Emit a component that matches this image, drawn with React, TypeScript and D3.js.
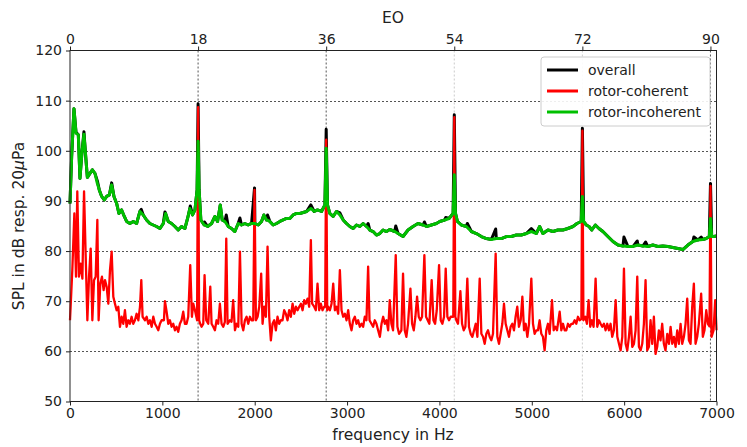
import React, { useEffect, useRef } from "react";
import * as d3 from "d3";

// [frequency in Hz, SPL in dB]
const rotorIncoherent: [number, number][] = [
  [0, 89.5], [18, 98.9], [43, 108.4], [65, 103.5], [90, 103.2], [108, 94.5], [126, 98.9], [151, 103.3],
  [170, 98.9], [188, 94.7], [216, 95.5], [242, 96.2], [270, 95.5], [296, 93.5], [317, 92.2], [343, 90.9],
  [371, 90.2], [397, 90.9], [426, 91.2], [451, 93.2], [476, 90.9], [505, 89.5], [530, 87.5], [559, 88.2],
  [588, 86.9], [613, 85.9], [649, 85.5], [685, 85.9], [721, 85.5], [757, 87.9], [793, 87.2], [829, 86.2],
  [865, 85.5], [901, 85.2], [937, 84.9], [974, 84.5], [1010, 85.5], [1035, 87.5], [1064, 85.9], [1100, 85.5],
  [1136, 84.9], [1172, 84.2], [1208, 84.9], [1244, 84.5], [1273, 86.5], [1298, 88.5], [1327, 87.2], [1353, 88.2],
  [1376, 92.2], [1387, 101.9], [1398, 92.2], [1417, 86.2], [1453, 85.2], [1490, 84.9], [1533, 85.5], [1569, 86.9],
  [1598, 85.9], [1627, 89.2], [1648, 86.2], [1677, 85.9], [1713, 84.9], [1749, 84.5], [1785, 83.9], [1821, 85.5],
  [1857, 85.2], [1893, 85.5], [1929, 85.2], [1966, 85.5], [2002, 85.5], [2038, 85.2], [2074, 85.9], [2099, 87.2],
  [2128, 86.2], [2164, 85.9], [2200, 85.2], [2236, 85.5], [2272, 85.9], [2308, 86.2], [2344, 86.5], [2380, 86.5],
  [2416, 87.2], [2453, 87.5], [2489, 87.5], [2525, 87.7], [2561, 87.9], [2608, 88.5], [2644, 87.9], [2680, 88.2],
  [2723, 87.9], [2760, 89.2], [2774, 100.5], [2788, 89.2], [2813, 87.5], [2849, 86.9], [2886, 87.9], [2922, 87.2],
  [2958, 86.2], [2994, 85.5], [3030, 84.9], [3066, 84.5], [3102, 85.2], [3138, 84.9], [3174, 85.5], [3210, 84.9],
  [3246, 84.2], [3282, 83.9], [3318, 83.2], [3354, 83.5], [3390, 84.2], [3427, 83.9], [3462, 84.3], [3516, 83.9],
  [3552, 83.5], [3606, 82.9], [3660, 84.2], [3714, 84.9], [3768, 85.5], [3823, 85.2], [3859, 84.9], [3913, 85.2],
  [3967, 85.5], [4003, 85.9], [4057, 86.2], [4104, 86.5], [4148, 87.5], [4161, 95.2], [4174, 87.5], [4195, 85.9],
  [4237, 85.2], [4291, 84.9], [4346, 83.9], [4400, 83.5], [4454, 82.9], [4508, 82.5], [4562, 82.3], [4616, 82.5],
  [4670, 82.5], [4725, 82.9], [4779, 82.9], [4833, 83.2], [4887, 83.2], [4941, 83.5], [4995, 83.9], [5049, 83.5],
  [5085, 84.9], [5121, 83.5], [5175, 84.2], [5229, 83.9], [5283, 84.2], [5337, 84.2], [5391, 84.5], [5446, 84.9],
  [5489, 85.5], [5535, 85.9], [5548, 90.9], [5561, 85.9], [5590, 85.2], [5620, 84.9], [5650, 84.2], [5688, 85.2],
  [5727, 84.5], [5770, 83.9], [5824, 82.9], [5879, 81.9], [5933, 81.2], [5987, 81.0], [6041, 80.9], [6095, 80.9],
  [6149, 81.2], [6203, 81.0], [6257, 80.9], [6311, 81.2], [6365, 80.9], [6419, 81.0], [6474, 80.9], [6528, 80.7],
  [6582, 80.5], [6636, 80.3], [6690, 81.2], [6744, 81.9], [6798, 82.2], [6852, 82.3], [6888, 82.5], [6922, 82.9],
  [6935, 86.5], [6948, 82.9], [6970, 82.9], [7000, 83.0],
];

const rotorCoherent: [number, number][] = [
  [0, 66.2], [25, 76.2], [47, 87.5], [65, 74.9], [79, 91.9], [97, 74.9], [115, 77.5], [134, 74.5],
  [152, 91.9], [170, 78.9], [188, 66.2], [206, 74.9], [224, 80.5], [242, 66.2], [260, 74.2], [278, 74.9],
  [296, 86.2], [310, 66.2], [328, 73.5], [346, 74.9], [364, 72.2], [379, 74.2], [397, 72.9], [415, 69.5],
  [433, 76.2], [451, 79.9], [469, 70.9], [487, 69.5], [505, 68.2], [523, 68.9], [541, 64.9], [559, 66.9],
  [577, 65.5], [595, 68.2], [613, 64.9], [631, 66.2], [649, 65.5], [667, 66.9], [685, 65.5], [703, 66.2],
  [721, 67.5], [740, 66.2], [758, 68.9], [772, 74.2], [786, 66.9], [812, 66.2], [830, 66.9], [848, 65.5],
  [866, 66.2], [884, 64.9], [902, 66.9], [920, 65.5], [938, 64.9], [956, 64.2], [974, 65.5], [992, 66.2],
  [1017, 66.2], [1028, 70.0], [1046, 67.9], [1064, 65.5], [1082, 66.2], [1100, 64.9], [1118, 65.5], [1136, 64.2],
  [1154, 64.9], [1172, 63.9], [1190, 65.5], [1208, 66.2], [1226, 67.9], [1244, 65.5], [1262, 65.5], [1280, 66.9],
  [1302, 77.2], [1320, 66.9], [1335, 69.5], [1353, 68.2], [1376, 66.2], [1387, 108.7], [1398, 66.2], [1410, 65.5],
  [1425, 64.9], [1443, 65.5], [1457, 75.2], [1475, 66.2], [1497, 65.5], [1519, 72.9], [1533, 65.5], [1551, 64.9],
  [1569, 64.2], [1587, 66.2], [1605, 65.5], [1623, 69.5], [1641, 65.5], [1659, 64.9], [1677, 65.9], [1692, 82.5],
  [1706, 65.5], [1731, 66.2], [1749, 65.9], [1767, 70.2], [1786, 64.2], [1804, 65.5], [1822, 64.9], [1840, 79.9],
  [1858, 65.5], [1876, 64.2], [1894, 66.2], [1912, 66.9], [1930, 65.5], [1948, 66.9], [1966, 66.2], [1984, 66.2],
  [1998, 92.2], [2013, 66.2], [2031, 66.9], [2049, 68.9], [2070, 75.5], [2085, 65.5], [2103, 68.9], [2121, 66.9],
  [2139, 80.9], [2157, 66.9], [2175, 62.2], [2193, 65.5], [2211, 66.2], [2229, 64.2], [2247, 66.9], [2265, 65.5],
  [2283, 66.2], [2301, 66.2], [2319, 68.2], [2337, 67.5], [2355, 66.2], [2373, 68.2], [2391, 66.9], [2410, 69.5],
  [2428, 67.5], [2446, 68.9], [2464, 68.2], [2482, 68.9], [2500, 69.5], [2518, 68.2], [2536, 70.2], [2554, 69.5],
  [2572, 70.5], [2590, 68.9], [2608, 82.2], [2622, 69.5], [2644, 68.9], [2662, 68.2], [2680, 73.5], [2698, 68.2],
  [2716, 69.5], [2734, 68.2], [2752, 68.9], [2763, 68.9], [2774, 102.2], [2785, 68.2], [2795, 68.9], [2814, 68.2],
  [2832, 69.5], [2850, 73.5], [2868, 68.2], [2886, 68.9], [2904, 67.5], [2922, 76.2], [2940, 68.2], [2958, 66.9],
  [2976, 67.5], [2994, 66.2], [3012, 68.2], [3030, 65.5], [3048, 64.2], [3066, 66.2], [3084, 66.9], [3102, 65.5],
  [3120, 66.2], [3138, 64.9], [3156, 65.5], [3174, 64.9], [3192, 66.9], [3210, 66.2], [3228, 76.9], [3243, 66.2],
  [3264, 65.5], [3282, 64.9], [3300, 66.2], [3318, 65.5], [3336, 64.2], [3355, 62.9], [3373, 65.5], [3391, 66.9],
  [3409, 65.5], [3427, 66.2], [3445, 64.2], [3462, 70.2], [3480, 65.5], [3498, 64.2], [3527, 79.2], [3545, 64.9],
  [3563, 63.5], [3588, 64.2], [3606, 75.5], [3624, 64.2], [3642, 62.9], [3660, 65.5], [3686, 72.5], [3704, 65.5],
  [3722, 64.2], [3740, 66.9], [3758, 70.9], [3776, 66.9], [3794, 66.2], [3812, 66.9], [3837, 79.2], [3855, 66.9],
  [3873, 66.2], [3891, 65.5], [3916, 74.2], [3935, 66.2], [3953, 65.5], [3971, 68.2], [3996, 77.2], [4014, 66.2],
  [4032, 65.5], [4050, 66.9], [4068, 76.5], [4086, 66.9], [4104, 66.2], [4122, 66.9], [4150, 66.9], [4161, 106.7],
  [4172, 66.9], [4183, 66.2], [4201, 65.5], [4227, 72.0], [4245, 65.5], [4263, 64.2], [4281, 64.9], [4302, 74.5],
  [4320, 64.9], [4338, 63.5], [4357, 62.9], [4375, 64.2], [4393, 65.5], [4411, 62.9], [4436, 74.5], [4454, 63.5],
  [4472, 62.9], [4490, 61.5], [4508, 63.5], [4526, 64.2], [4544, 62.9], [4562, 62.2], [4580, 63.5], [4609, 79.5],
  [4627, 62.9], [4645, 61.5], [4663, 63.5], [4681, 65.5], [4699, 69.5], [4717, 65.5], [4735, 64.2], [4753, 62.9],
  [4771, 64.9], [4789, 65.5], [4807, 64.2], [4825, 66.9], [4843, 68.9], [4861, 64.9], [4880, 66.2], [4898, 70.9],
  [4916, 64.2], [4934, 65.5], [4952, 62.9], [4970, 65.5], [4995, 74.5], [5013, 65.5], [5031, 63.5], [5049, 64.2],
  [5067, 64.2], [5085, 66.2], [5103, 63.5], [5121, 62.9], [5139, 60.2], [5157, 64.2], [5175, 65.5], [5193, 63.5],
  [5219, 70.2], [5237, 64.2], [5255, 64.9], [5273, 64.2], [5302, 67.9], [5320, 64.2], [5338, 65.5], [5356, 64.2],
  [5374, 64.2], [5392, 65.5], [5410, 64.9], [5428, 65.5], [5446, 65.5], [5464, 66.2], [5482, 65.5], [5500, 66.9],
  [5518, 66.2], [5537, 66.5], [5548, 104.0], [5559, 66.2], [5579, 66.9], [5597, 65.5], [5615, 70.2], [5633, 64.9],
  [5651, 66.2], [5669, 64.9], [5691, 74.5], [5709, 64.9], [5727, 66.2], [5745, 65.5], [5763, 64.9], [5781, 65.5],
  [5799, 64.2], [5817, 65.5], [5835, 64.2], [5853, 65.5], [5871, 62.9], [5889, 64.2], [5908, 70.2], [5926, 62.9],
  [5944, 61.5], [5962, 60.2], [5980, 62.9], [5998, 76.5], [6016, 61.5], [6034, 60.2], [6052, 62.9], [6070, 66.9],
  [6088, 60.9], [6106, 61.5], [6124, 64.2], [6142, 74.9], [6160, 60.9], [6178, 60.2], [6196, 61.5], [6214, 65.5],
  [6232, 74.2], [6250, 60.2], [6268, 60.9], [6286, 66.2], [6304, 61.5], [6322, 66.9], [6340, 59.5], [6358, 60.9],
  [6376, 64.2], [6394, 62.2], [6412, 65.5], [6430, 61.5], [6448, 60.2], [6467, 63.5], [6485, 61.5], [6503, 64.9],
  [6521, 61.5], [6539, 62.9], [6557, 60.9], [6575, 64.2], [6593, 61.5], [6611, 65.5], [6629, 61.5], [6647, 62.9],
  [6665, 65.5], [6683, 70.5], [6701, 62.2], [6719, 61.5], [6737, 68.9], [6755, 73.5], [6773, 61.5], [6791, 62.9],
  [6809, 65.5], [6834, 71.5], [6852, 62.9], [6870, 64.2], [6889, 68.2], [6907, 65.5], [6924, 65.0], [6935, 93.0],
  [6946, 62.9], [6968, 64.2], [6986, 70.2], [7000, 64.2],
];

// points where the overall level rises visibly above the rotor-incoherent part
const overallPeaks: [number, number][] = [
  [65, 103.7], [151, 103.8], [296, 94.0], [451, 93.6], [772, 88.3], [1028, 87.8], [1302, 89.0], [1387, 109.4],
  [1457, 85.8], [1692, 87.2], [1840, 86.6], [1998, 92.6], [2139, 87.2], [2608, 89.2], [2774, 104.3], [2922, 87.6],
  [3228, 85.5], [3527, 85.0], [3837, 85.8], [4068, 86.7], [4161, 107.2], [4302, 85.5], [4609, 84.4], [4995, 84.5],
  [5548, 104.5], [5998, 82.8], [6142, 82.0], [6232, 81.8], [6755, 82.8], [6834, 82.8], [6935, 93.5],
];

const freqTicks = [0, 1000, 2000, 3000, 4000, 5000, 6000, 7000];
const splTicks = [50, 60, 70, 80, 90, 100, 110, 120];
const eoTicks = [0, 18, 36, 54, 72, 90];
const eoBaseHz = 77.05;
const legendItems = [
  { label: "overall", color: "#000000" },
  { label: "rotor-coherent", color: "#ff0000" },
  { label: "rotor-incoherent", color: "#00c000" },
];

const W = 747;
const H = 447;
const font = "DejaVu Sans, sans-serif";

const App = () => {
  const ref = useRef<SVGSVGElement>(null);

  useEffect(() => {
    drawChart();
  }, []);

  const drawChart = () => {
    const left = 70, right = 716.5, top = 50.5, bottom = 401.5;
    const svg = d3.select(ref.current);
    svg.selectAll("*").remove();

    const x = d3.scaleLinear().domain([0, 7000]).range([left, right]);
    const xEO = d3.scaleLinear().domain([0, 7000 / eoBaseHz]).range([left, right]);
    const y = d3.scaleLinear().domain([50, 120]).range([bottom, top]);

    // grid
    const grid = svg.append("g");
    grid.selectAll("line.h")
      .data(splTicks.slice(1, -1))
      .join("line")
      .attr("x1", left).attr("x2", right)
      .attr("y1", (d) => Math.round(y(d)) + 0.5).attr("y2", (d) => Math.round(y(d)) + 0.5)
      .attr("stroke", "#555").attr("stroke-dasharray", "2,2");
    grid.selectAll("line.v")
      .data(eoTicks.slice(1))
      .join("line")
      .attr("x1", (d) => xEO(d)).attr("x2", (d) => xEO(d))
      .attr("y1", top).attr("y2", bottom)
      .attr("stroke", (d) => (d === 54 || d === 72 ? "#ccc" : "#555"))
      .attr("stroke-dasharray", "2,2");

    const line = d3.line<[number, number]>()
      .x((d) => x(d[0]))
      .y((d) => y(d[1]));

    // overall = incoherent level with the peaks where it sits above it
    const merged = new Map<number, number>(rotorIncoherent);
    overallPeaks.forEach(([f, v]) => merged.set(f, v));
    const overall = Array.from(merged.entries()).sort((a, b) => a[0] - b[0]);

    const series: [[number, number][], string, number][] = [
      [overall, "#000000", 3],
      [rotorCoherent, "#ff0000", 2.3],
      [rotorIncoherent, "#00c000", 3],
    ];
    series.forEach(([data, color, w]) => {
      svg.append("path")
        .datum(data)
        .attr("fill", "none")
        .attr("stroke", color)
        .attr("stroke-width", w)
        .attr("stroke-linejoin", "round")
        .attr("d", line);
    });

    // frame
    svg.append("rect")
      .attr("x", left).attr("y", top)
      .attr("width", right - left).attr("height", bottom - top)
      .attr("fill", "none").attr("stroke", "#222").attr("stroke-width", 1);

    const styleAxis = (g: any) => {
      g.selectAll(".domain").remove();
      g.selectAll("line").attr("stroke", "#222");
      g.selectAll("text").attr("font-family", font).attr("font-size", 14).attr("fill", "#222");
    };

    svg.append("g")
      .attr("transform", `translate(0,${bottom})`)
      .call(d3.axisBottom(x).tickValues(freqTicks).tickSize(4).tickPadding(3).tickFormat(d3.format("d")))
      .call(styleAxis);
    svg.append("g")
      .attr("transform", `translate(${left},0)`)
      .call(d3.axisLeft(y).tickValues(splTicks).tickSize(4).tickPadding(4).tickFormat(d3.format("d")))
      .call(styleAxis);
    svg.append("g")
      .attr("transform", `translate(0,${top})`)
      .call(d3.axisTop(xEO).tickValues(eoTicks).tickSize(4).tickPadding(3).tickFormat(d3.format("d")))
      .call(styleAxis);

    // axis labels
    svg.append("text")
      .attr("x", 393).attr("y", 440)
      .attr("text-anchor", "middle").attr("font-family", font).attr("font-size", 15.5).attr("fill", "#222")
      .text("frequency in Hz");
    svg.append("text")
      .attr("x", 393).attr("y", 23)
      .attr("text-anchor", "middle").attr("font-family", font).attr("font-size", 15.5).attr("fill", "#222")
      .text("EO");
    const yl = svg.append("text")
      .attr("transform", `translate(24,${(top + bottom) / 2}) rotate(-90)`)
      .attr("text-anchor", "middle").attr("font-family", font).attr("font-size", 15.5).attr("fill", "#222");
    yl.append("tspan").text("SPL in dB resp. 20");
    yl.append("tspan").attr("font-style", "italic").text("μ");
    yl.append("tspan").text("Pa");

    // legend
    const lg = svg.append("g").attr("transform", "translate(541,57)");
    lg.append("rect")
      .attr("width", 169).attr("height", 69).attr("rx", 3)
      .attr("fill", "#fff").attr("fill-opacity", 0.9).attr("stroke", "#ccc");
    legendItems.forEach((item, i) => {
      const yy = 13 + i * 21;
      lg.append("line")
        .attr("x1", 6).attr("x2", 37).attr("y1", yy).attr("y2", yy)
        .attr("stroke", item.color).attr("stroke-width", 3);
      lg.append("text")
        .attr("x", 47).attr("y", yy + 5)
        .attr("font-family", font).attr("font-size", 14).attr("fill", "#222")
        .text(item.label);
    });
  };

  return (
    <div>
      <style>{`body{margin:0}`}</style>
      <svg ref={ref} width={W} height={H} style={{ display: "block", background: "#fff" }}></svg>
    </div>
  );
};

export default App;
